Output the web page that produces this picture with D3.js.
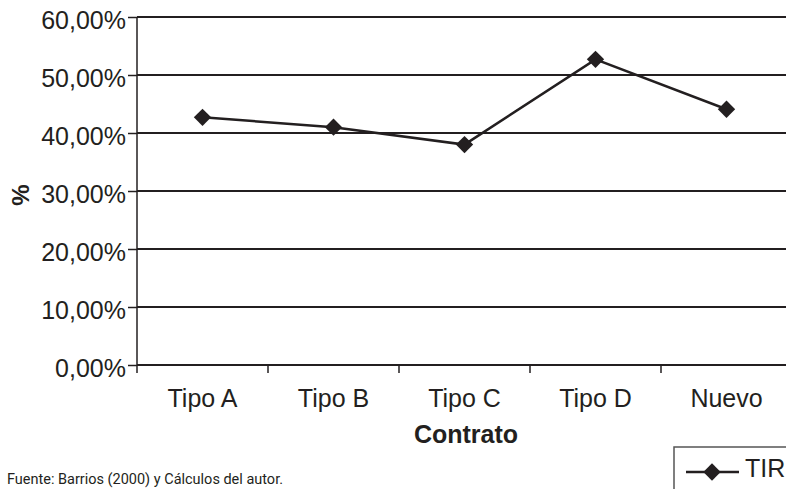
<!DOCTYPE html>
<html><head><meta charset="utf-8">
<script src="https://cdn.jsdelivr.net/npm/d3@7"></script>
<style>body{margin:0;background:#fff;}svg{display:block;}</style>
</head><body>
<svg id="c" width="786" height="489"></svg>
<script>
const categories = ["Tipo A","Tipo B","Tipo C","Tipo D","Nuevo"];
const tirValues = [0.427,0.410,0.380,0.527,0.441];
const yTicks = [0,0.1,0.2,0.3,0.4,0.5,0.6];
const seriesName = "TIR";

(function(){
const svg = d3.select("#c");
const mLeft = 137, mRight = 792, mTop = 17, mBottom = 365;
const x = d3.scaleBand().domain(categories).range([mLeft,mRight]);
const y = d3.scaleLinear().domain([0,0.6]).range([mBottom,mTop]);
const fmt = v => d3.format(".2f")(v*100).replace(".",",") + "%";
const ink = "#231f20";
const font = "'Liberation Sans', Arial, Helvetica, sans-serif";

// gridlines
svg.append("g").selectAll("line").data(yTicks).join("line")
  .attr("x1",mLeft).attr("x2",786).attr("y1",d=>y(d)).attr("y2",d=>y(d))
  .attr("stroke",ink).attr("stroke-width",2);

// y axis
const ya = svg.append("g").attr("transform",`translate(${mLeft},0)`)
  .call(d3.axisLeft(y).tickValues(yTicks).tickFormat(fmt).tickSize(9).tickPadding(2));
ya.select(".domain").remove();
ya.selectAll("line").attr("stroke",ink).attr("stroke-width",1.5);
ya.selectAll("text").attr("font-family",font).attr("font-size",25).attr("fill",ink).attr("dy","0.45em");
svg.append("line").attr("x1",mLeft).attr("x2",mLeft).attr("y1",mTop).attr("y2",mBottom+8)
  .attr("stroke",ink).attr("stroke-width",1.5);

// x axis
const xa = svg.append("g").attr("transform",`translate(0,${mBottom})`)
  .call(d3.axisBottom(x).tickSize(0).tickPadding(0));
xa.select(".domain").remove();
xa.selectAll("text").attr("font-family",font).attr("font-size",25).attr("fill",ink)
  .attr("dy",null).attr("y",42);
svg.append("g").selectAll("line").data(categories.slice(1)).join("line")
  .attr("x1",d=>x(d)).attr("x2",d=>x(d)).attr("y1",mBottom).attr("y2",mBottom+8)
  .attr("stroke",ink).attr("stroke-width",1.5);

// line
const cx = d => x(d) + x.bandwidth()/2;
const data = categories.map((c,i)=>({c, v:tirValues[i]}));
svg.append("path").datum(data)
  .attr("d", d3.line().x(d=>cx(d.c)).y(d=>y(d.v)))
  .attr("fill","none").attr("stroke",ink).attr("stroke-width",2.5);
svg.append("g").selectAll("path").data(data).join("path")
  .attr("d", d3.symbol().type(d3.symbolSquare).size(150))
  .attr("transform", d=>`translate(${cx(d.c)},${y(d.v)}) rotate(45)`)
  .attr("fill",ink);

// axis titles
svg.append("text").attr("x",466).attr("y",443).attr("text-anchor","middle")
  .attr("font-family",font).attr("font-weight","bold").attr("font-size",25).attr("fill",ink).text("Contrato");
svg.append("text").attr("transform","translate(29,195) rotate(-90)").attr("text-anchor","middle")
  .attr("font-family",font).attr("font-weight","bold").attr("font-size",24).attr("fill",ink).text("%");

// legend
svg.append("rect").attr("x",674).attr("y",447).attr("width",130).attr("height",60)
  .attr("fill","#fff").attr("stroke","#555").attr("stroke-width",1.5);
svg.append("line").attr("x1",686).attr("x2",739).attr("y1",472).attr("y2",472).attr("stroke",ink).attr("stroke-width",2.5);
svg.append("path").attr("d", d3.symbol().type(d3.symbolSquare).size(150)).attr("transform","translate(712,472) rotate(45)").attr("fill",ink);
svg.append("text").attr("x",745).attr("y",477).attr("font-family",font).attr("font-size",25).attr("fill",ink).text(seriesName);

// source
svg.append("text").attr("x",7).attr("y",484)
  .attr("font-family","Roboto, sans-serif").attr("font-size",15).attr("fill",ink)
  .attr("textLength",276).attr("lengthAdjust","spacingAndGlyphs")
  .text("Fuente: Barrios (2000) y Cálculos del autor.");
})();
</script>
</body></html>
